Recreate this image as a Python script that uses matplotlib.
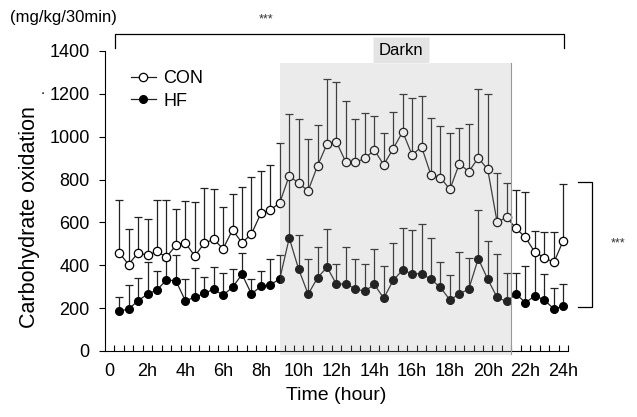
import matplotlib
matplotlib.use('Agg')
import matplotlib.pyplot as plt
import numpy as np

plt.rcParams['font.family'] = ['Liberation Sans', 'DejaVu Sans']

# half-hour bins, 0.5h .. 24h
hours = np.arange(1, 49) * 0.5

con = [459, 403, 459, 446, 465, 438, 493, 505, 443, 502, 521, 477, 565, 505, 546, 642,
       658, 692, 818, 782, 748, 865, 966, 975, 880, 880, 899, 938, 869, 944, 1023, 915,
       953, 821, 809, 754, 874, 837, 901, 848, 601, 624, 572, 530, 460, 436, 413, 515]
con_sd = [246, 166, 165, 170, 240, 267, 170, 195, 251, 260, 235, 196, 169, 262, 266, 199,
          211, 280, 286, 301, 240, 190, 305, 279, 285, 201, 213, 160, 147, 171, 176, 267,
          238, 268, 241, 262, 165, 222, 323, 351, 228, 161, 180, 212, 100, 117, 140, 266]

hf = [187, 195, 235, 265, 285, 331, 328, 235, 250, 269, 288, 261, 297, 358, 266, 302,
      308, 337, 527, 381, 265, 342, 391, 311, 314, 289, 279, 311, 246, 330, 378, 360,
      361, 334, 297, 238, 266, 289, 431, 335, 250, 231, 266, 225, 258, 238, 196, 209]
hf_sd = [67, 112, 106, 150, 87, 94, 118, 102, 137, 75, 106, 104, 84, 98, 69, 70,
         122, 110, 288, 159, 164, 145, 179, 94, 173, 140, 126, 166, 152, 174, 197, 206,
         230, 192, 118, 117, 195, 143, 228, 178, 203, 131, 99, 173, 197, 121, 97, 104]

tick_hours = np.arange(0, 25, 2)
tick_labels = ['0'] + ['%dh' % h for h in tick_hours[1:]]
dark_start, dark_end = 9.0, 21.25

fig = plt.figure(figsize=(6.37, 4.17), dpi=100)
ax = fig.add_axes([0.1648, 0.1583, 0.7269, 0.7194])

ax.errorbar(hours, con, yerr=[np.zeros(48), con_sd], fmt='none', ecolor='#222222',
            elinewidth=0.9, capsize=3, capthick=0.9, zorder=2)
ax.errorbar(hours, hf, yerr=[np.zeros(48), hf_sd], fmt='none', ecolor='#222222',
            elinewidth=0.9, capsize=3, capthick=0.9, zorder=2)
ax.plot(hours, hf, '-o', color='#222222', lw=0.9, ms=5.5, mfc='black', mec='black',
        zorder=3, label='HF')
ax.plot(hours, con, '-o', color='#222222', lw=0.9, ms=6, mfc='white', mec='black',
        mew=0.9, zorder=4, label='CON')

# darkness shading (drawn over the data, like the original)
ax.axvspan(dark_start, dark_end, ymin=-0.012, ymax=0.96, color='#a8a8a8', alpha=0.22,
           lw=0, zorder=5, clip_on=False)
ax.plot([dark_end, dark_end], [-15, 1344], color='#999999', lw=0.8, zorder=5, clip_on=False)
ax.text(15.4, 1403, 'Darkn', ha='center', va='center', fontsize=12, zorder=6,
        bbox=dict(boxstyle='square,pad=0.33', fc='#e4e4e4', ec='#f2f2f2', lw=0.8))

ax.set_xlim(-0.25, 24.25)
ax.set_ylim(0, 1400)
ax.set_yticks(np.arange(0, 1401, 200))
ax.set_xticks(tick_hours)
ax.set_xticklabels(tick_labels)
ax.set_xticks(np.arange(0.25, 24.3, 0.5), minor=True)
ax.tick_params(axis='x', which='major', length=0, pad=9, labelsize=13)
ax.tick_params(axis='x', which='minor', direction='in', length=4, width=0.8)
ax.tick_params(axis='y', direction='out', length=4, width=0.8, pad=7, labelsize=13)
for s in ['top', 'right']:
    ax.spines[s].set_visible(False)
for s in ['left', 'bottom']:
    ax.spines[s].set_linewidth(0.8)

ax.set_xlabel('Time (hour)', fontsize=14, labelpad=5)
ax.set_ylabel('Carbohydrate oxidation', fontsize=15.5)
ax.yaxis.set_label_coords(-0.14, 0.447)
fig.text(0.063, 0.782, '.', fontsize=10, rotation=90, ha='center', va='center')
fig.text(0.016, 0.957, '(mg/kg/30min)', fontsize=12, ha='left', va='center')

handles, labels = ax.get_legend_handles_labels()
ax.legend(handles[::-1], labels[::-1], loc='upper left', bbox_to_anchor=(0.04, 0.96),
          frameon=False, fontsize=13, handlelength=1.4, handletextpad=0.4,
          labelspacing=0.3, borderaxespad=0)

# significance brackets
ax.plot([0.28, 0.28, 24.04, 24.04], [1414, 1479, 1479, 1414], color='black', lw=0.9,
        clip_on=False)
ax.text(8.27, 1545, '***', ha='center', va='center', fontsize=9, color='#333333')
ax.plot([24.78, 25.52, 25.52, 24.78], [789, 789, 205, 205], color='black', lw=0.9,
        clip_on=False)
ax.text(26.9, 500, '***', ha='center', va='center', fontsize=9, color='#333333')

fig.savefig('out.png', dpi=100)
